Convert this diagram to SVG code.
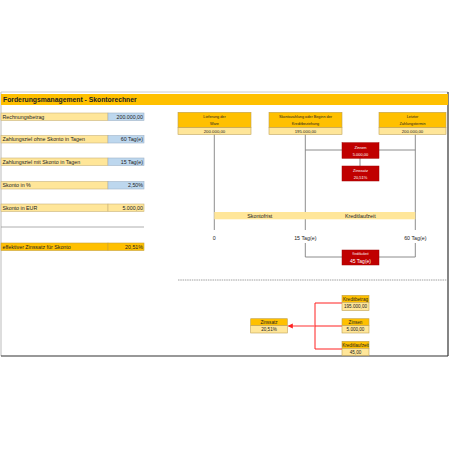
<svg xmlns="http://www.w3.org/2000/svg" width="450" height="450" viewBox="0 0 450 450">
<style>
text{font-family:"Liberation Sans",Arial,sans-serif;fill:#222}
.lbl{font-size:5.3px}
.val{font-size:5.3px;text-anchor:end}
.cy{fill:#FFE699;stroke:#C9B37A;stroke-width:0.6}
.cb{fill:#BDD7EE;stroke:#9FB3C8;stroke-width:0.6}
.co{fill:#FFC000;stroke:#C9A23A;stroke-width:0.6}
.hd{fill:#FFC000;stroke:#BFA050;stroke-width:0.6}
.vl{fill:#FFE699;stroke:#BFA050;stroke-width:0.6}
.bt{font-size:3.8px;text-anchor:middle}
.rd{fill:#C00000;stroke:#A00000;stroke-width:0.5}
.rt{fill:#fff;font-size:4px;text-anchor:middle}
.gl{stroke:#808080;stroke-width:0.9;fill:none}
.rl{stroke:#FF2020;stroke-width:1;fill:none}
.tl{font-size:5.3px;text-anchor:middle}
</style>
<defs>
<marker id="ah" viewBox="0 0 6 6" refX="5" refY="3" markerWidth="4" markerHeight="4" orient="auto">
<path d="M0,0 L6,3 L0,6 z" fill="#FF2020"/>
</marker>
</defs>
<rect x="0" y="0" width="450" height="450" fill="#fff"/>
<!-- frame -->
<line x1="1" y1="92" x2="1" y2="356" stroke="#BBBBBB" stroke-width="1"/>
<line x1="1" y1="92" x2="448" y2="92" stroke="#CCCCCC" stroke-width="1"/>
<line x1="448" y1="92" x2="448" y2="356" stroke="#333" stroke-width="1.2"/>
<line x1="1" y1="356" x2="448" y2="356" stroke="#333" stroke-width="1.2"/>
<!-- header -->
<rect x="1" y="94" width="447" height="11" fill="#FFC000"/>
<text x="3" y="102" style="font-size:6.8px;font-weight:bold">Forderungsmanagement - Skontorechner</text>

<g id="left-panel">
<g id="row-rechnungsbetrag">
<rect class="cy" x="1" y="113" width="107" height="7.5"/>
<rect class="cb" x="108" y="113" width="36" height="7.5"/>
<text class="lbl" x="2.5" y="118.8">Rechnungsbetrag</text>
<text class="val" x="143" y="118.8">200.000,00</text>
</g>
<g id="row-ohne">
<rect class="cy" x="1" y="135.5" width="107" height="7.5"/>
<rect class="cb" x="108" y="135.5" width="36" height="7.5"/>
<text class="lbl" x="2.5" y="141.3">Zahlungsziel ohne Skonto in Tagen</text>
<text class="val" x="143" y="141.3">60 Tag(e)</text>
</g>
<g id="row-mit">
<rect class="cy" x="1" y="158" width="107" height="7.5"/>
<rect class="cb" x="108" y="158" width="36" height="7.5"/>
<text class="lbl" x="2.5" y="163.8">Zahlungsziel mit Skonto in Tagen</text>
<text class="val" x="143" y="163.8">15 Tag(e)</text>
</g>
<g id="row-skonto-pct">
<rect class="cy" x="1" y="181.5" width="107" height="7.5"/>
<rect class="cb" x="108" y="181.5" width="36" height="7.5"/>
<text class="lbl" x="2.5" y="187.3">Skonto in %</text>
<text class="val" x="143" y="187.3">2,50%</text>
</g>
<g id="row-skonto-eur">
<rect class="cy" x="1" y="204" width="107" height="7.5"/>
<rect class="cy" x="108" y="204" width="36" height="7.5"/>
<text class="lbl" x="2.5" y="209.8">Skonto in EUR</text>
<text class="val" x="143" y="209.8">5.000,00</text>
</g>
<line x1="1" y1="227" x2="144" y2="227" stroke="#999" stroke-width="0.8"/>
<g id="row-zinssatz">
<rect class="co" x="1" y="243" width="107" height="7.5"/>
<rect class="co" x="108" y="243" width="36" height="7.5"/>
<text class="lbl" x="2.5" y="248.8">effektiver Zinssatz für Skonto</text>
<text class="val" x="143" y="248.8">20,51%</text>
</g>
</g>

<g id="connectors">
<polyline class="gl" points="214.3,134.5 214.3,230"/>
<polyline class="gl" points="305.3,134.5 305.3,230"/>
<polyline class="gl" points="415.3,134.5 415.3,230"/>
<line class="gl" x1="305.3" y1="150" x2="415.3" y2="150"/>
<line class="gl" x1="360" y1="158" x2="360" y2="166"/>
<polyline class="gl" points="305.3,243 305.3,257 342,257"/>
<polyline class="gl" points="415.3,243 415.3,257 379,257"/>
<line x1="178" y1="280" x2="448" y2="280" stroke="#888" stroke-width="0.8" stroke-dasharray="1.5,0.8"/>
<line class="rl" x1="315" y1="303" x2="315" y2="349"/>
<line class="rl" x1="315" y1="303" x2="342" y2="303"/>
<line class="rl" x1="315" y1="349" x2="342" y2="349"/>
<line class="rl" x1="342" y1="326" x2="315" y2="326"/>
<line x1="315" y1="326" x2="288.5" y2="326" stroke="#FF6060" stroke-width="1.3" marker-end="url(#ah)"/>
</g>

<g id="timeline">
<rect x="214.3" y="212" width="201" height="7.3" fill="#FFE699"/>
<text class="tl" x="259.8" y="217.5">Skontofrist</text>
<text class="tl" x="360.3" y="217.5">Kreditlaufzeit</text>
<text class="tl" x="214.3" y="240">0</text>
<text class="tl" x="305.3" y="240">15 Tag(e)</text>
<text class="tl" x="415.3" y="240">60 Tag(e)</text>
</g>

<g id="box-lieferung">
<rect class="hd" x="178" y="112.3" width="73" height="15.4"/>
<rect class="vl" x="178" y="127.7" width="73" height="6.6"/>
<text class="bt" x="214.5" y="118">Lieferung der</text>
<text class="bt" x="214.5" y="125">Ware</text>
<text class="bt" x="214.5" y="132.5" style="font-size:4.3px">200.000,00</text>
</g>
<g id="box-skontozahlung">
<rect class="hd" x="269" y="112.3" width="73" height="15.4"/>
<rect class="vl" x="269" y="127.7" width="73" height="6.6"/>
<text class="bt" x="305.5" y="118">Skontozahlung oder Beginn der</text>
<text class="bt" x="305.5" y="125">Kreditbeziehung</text>
<text class="bt" x="305.5" y="132.5" style="font-size:4.3px">195.000,00</text>
</g>
<g id="box-letzter">
<rect class="hd" x="379" y="112.3" width="67" height="15.4"/>
<rect class="vl" x="379" y="127.7" width="67" height="6.6"/>
<text class="bt" x="412.5" y="118">Letzter</text>
<text class="bt" x="412.5" y="125">Zahlungstermin</text>
<text class="bt" x="412.5" y="132.5" style="font-size:4.3px">200.000,00</text>
</g>

<g id="red-zinsen">
<rect class="rd" x="342" y="142.7" width="37" height="15.6"/>
<text class="rt" x="360.5" y="149">Zinsen</text>
<text class="rt" x="360.5" y="155.8">5.000,00</text>
</g>
<g id="red-zinssatz">
<rect class="rd" x="342" y="166" width="37" height="15"/>
<text class="rt" x="360.5" y="172">Zinssatz</text>
<text class="rt" x="360.5" y="178.6">20,51%</text>
</g>
<g id="red-kreditlaufzeit">
<rect class="rd" x="342" y="250" width="37" height="15"/>
<text class="rt" x="360.5" y="255" style="font-size:2.8px">Kreditlaufzeit</text>
<text class="rt" x="360.5" y="262.5" style="font-size:5px">45 Tag(e)</text>
</g>

<g id="tree-zinssatz">
<rect class="hd" x="250.7" y="318.7" width="36.6" height="7"/>
<rect class="vl" x="250.7" y="325.7" width="36.6" height="7.3"/>
<text class="bt" x="269" y="324" style="font-size:4.6px">Zinssatz</text>
<text class="bt" x="269" y="331.4" style="font-size:4.6px">20,51%</text>
</g>
<g id="tree-kreditbetrag">
<rect class="hd" x="342" y="295.3" width="27" height="7"/>
<rect class="vl" x="342" y="302.3" width="27" height="8.2"/>
<text class="bt" x="355.5" y="300.6" style="font-size:4.6px">Kreditbetrag</text>
<text class="bt" x="355.5" y="308.4" style="font-size:4.6px">195.000,00</text>
</g>
<g id="tree-zinsen">
<rect class="hd" x="342" y="318.7" width="27" height="7"/>
<rect class="vl" x="342" y="325.7" width="27" height="7.3"/>
<text class="bt" x="355.5" y="324" style="font-size:4.6px">Zinsen</text>
<text class="bt" x="355.5" y="331.4" style="font-size:4.6px">5.000,00</text>
</g>
<g id="tree-kreditlaufzeit">
<rect class="hd" x="342" y="341.3" width="27" height="7"/>
<rect class="vl" x="342" y="348.3" width="27" height="7.2"/>
<text class="bt" x="355.5" y="346.6" style="font-size:4.6px">Kreditlaufzeit</text>
<text class="bt" x="355.5" y="354" style="font-size:4.6px">45,00</text>
</g>
</svg>
